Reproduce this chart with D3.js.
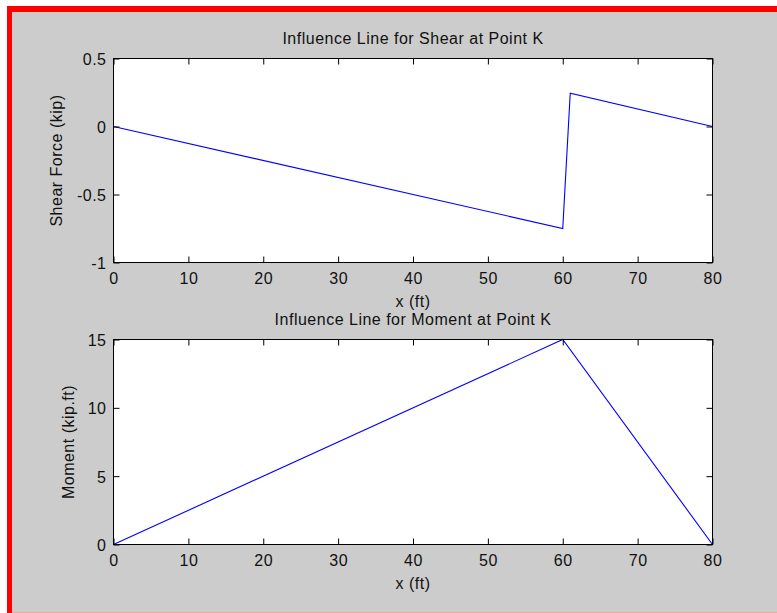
<!DOCTYPE html>
<html>
<head>
<meta charset="utf-8">
<script src="https://cdn.jsdelivr.net/npm/d3@7"></script>
<style>
  html, body { margin: 0; padding: 0; background: #ffffff; }
  svg { display: block; }
  text { font-family: "Liberation Sans", Arial, Helvetica, sans-serif; font-size: 16px; fill: #111; letter-spacing: 0.5px; }
</style>
</head>
<body>
<svg id="chart" width="777" height="613"></svg>
<script>
// ---- data ----
const xTicks = [0, 10, 20, 30, 40, 50, 60, 70, 80];
const xTickLabels = ["0", "10", "20", "30", "40", "50", "60", "70", "80"];

const shearX = [0, 60, 61, 80];
const shearV = [0, -0.75, 0.245, 0];
const shearTicks = [0.5, 0, -0.5, -1];
const shearTickLabels = ["0.5", "0", "-0.5", "-1"];

const momentX = [0, 60, 80];
const momentV = [0, 15, 0];
const momentTicks = [0, 5, 10, 15];
const momentTickLabels = ["0", "5", "10", "15"];

const titles = ["Influence Line for Shear at Point K", "Influence Line for Moment at Point K"];
const yLabels = ["Shear Force (kip)", "Moment (kip.ft)"];
const xLabel = "x (ft)";

// ---- drawing ----
const svg = d3.select("#chart");

// frame: white page, red border, grey figure background
svg.append("rect").attr("x", 0).attr("y", 0).attr("width", 777).attr("height", 613).attr("fill", "#ffffff");
svg.append("rect").attr("x", 7).attr("y", 6).attr("width", 780).attr("height", 610).attr("fill", "#ff0000");
svg.append("rect").attr("x", 12).attr("y", 12).attr("width", 770).attr("height", 600).attr("fill", "#cccccc");
svg.append("line").attr("x1", 12).attr("x2", 777).attr("y1", 612.5).attr("y2", 612.5)
  .attr("stroke", "#f4a6a0").attr("stroke-width", 1);

const left = 113.5, right = 712.5;

const panels = [
  { top: 58.5, bottom: 262.5, xs: shearX, ys: shearV, domain: [-1, 0.5], ticks: shearTicks, labels: shearTickLabels,
    title: titles[0], ylab: yLabels[0], ylabX: 62 },
  { top: 339.5, bottom: 544.5, xs: momentX, ys: momentV, domain: [0, 15], ticks: momentTicks, labels: momentTickLabels,
    title: titles[1], ylab: yLabels[1], ylabX: 73.5 }
];

const x = d3.scaleLinear().domain([0, 80]).range([left, right]);

panels.forEach(p => {
  const y = d3.scaleLinear().domain(p.domain).range([p.bottom, p.top]);
  const g = svg.append("g");

  g.append("rect").attr("x", left).attr("y", p.top).attr("width", right - left).attr("height", p.bottom - p.top)
    .attr("fill", "#ffffff");

  // data line
  const pts = p.xs.map((v, i) => [v, p.ys[i]]);
  g.append("path").datum(pts)
    .attr("d", d3.line().x(d => x(d[0])).y(d => y(d[1])))
    .attr("fill", "none").attr("stroke", "#0000ff").attr("stroke-width", 1.1);

  const tl = 6;
  // bottom axis (ticks inward)
  const ab = d3.axisBottom(x).tickValues(xTicks).tickSizeInner(-tl).tickSizeOuter(0)
    .tickFormat((d, i) => xTickLabels[i]);
  const gb = g.append("g").attr("transform", `translate(0,${p.bottom})`).call(ab);
  gb.select(".domain").remove();
  gb.selectAll("text").attr("y", 21.5).attr("dy", null).attr("font-size", null).attr("font-family", null);
  // top axis ticks
  const at = d3.axisTop(x).tickValues(xTicks).tickSizeInner(-tl).tickSizeOuter(0).tickFormat("");
  const gt = g.append("g").attr("transform", `translate(0,${p.top})`).call(at);
  gt.select(".domain").remove();
  // left axis
  const al = d3.axisLeft(y).tickValues(p.ticks).tickSizeInner(-tl).tickSizeOuter(0)
    .tickFormat((d, i) => p.labels[i]);
  const gl = g.append("g").attr("transform", `translate(${left},0)`).call(al);
  gl.select(".domain").remove();
  gl.selectAll("text").attr("x", -7).attr("dy", null).attr("y", 6).attr("font-size", null).attr("font-family", null);
  // right axis ticks
  const ar = d3.axisRight(y).tickValues(p.ticks).tickSizeInner(-tl).tickSizeOuter(0).tickFormat("");
  const gr = g.append("g").attr("transform", `translate(${right},0)`).call(ar);
  gr.select(".domain").remove();

  g.selectAll(".tick line").attr("stroke", "#000");
  g.selectAll(".tick text").attr("fill", "#111");

  // box
  g.append("rect").attr("x", left).attr("y", p.top).attr("width", right - left).attr("height", p.bottom - p.top)
    .attr("fill", "none").attr("stroke", "#000").attr("stroke-width", 1);

  // title
  g.append("text").attr("x", (left + right) / 2).attr("y", p.top - 14.5)
    .attr("text-anchor", "middle").text(p.title);
  // x label
  g.append("text").attr("x", (left + right) / 2).attr("y", p.bottom + 44.5)
    .attr("text-anchor", "middle").text(xLabel);
  // y label
  g.append("text")
    .attr("transform", `translate(${p.ylabX},${(p.top + p.bottom) / 2}) rotate(-90)`)
    .attr("text-anchor", "middle").text(p.ylab);
});
</script>
</body>
</html>
